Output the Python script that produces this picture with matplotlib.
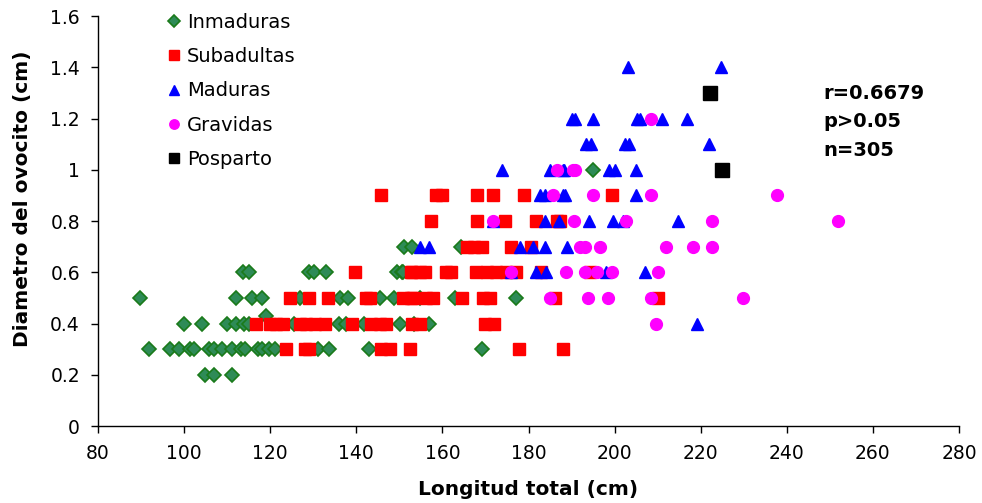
import matplotlib
matplotlib.use("Agg")
import matplotlib.pyplot as plt
from matplotlib.ticker import FuncFormatter

plt.rcParams['font.family'] = ['DejaVu Sans']

# Inmaduras (green diamonds)
inm_x = [104.9, 106.9, 111.2,
         91.9, 96.8, 98.8, 101.3, 102.2, 105.8, 106.9, 108.7, 111.2, 113.1, 114.1,
         117.2, 118.2, 119.7, 121.0, 131.1, 133.7, 143.0, 169.1,
         99.9, 104.2, 110.0, 112.0, 113.9, 115.0, 125.5, 135.9, 137.7, 141.8, 150.2, 153.5, 157.0,
         119.1,
         89.8, 112.1, 115.8, 118.2, 127.0, 136.1, 138.0, 145.4, 148.7, 154.9, 162.9, 177.2,
         113.7, 115.1, 129.0, 130.1, 132.9, 149.5, 150.5, 150.9,
         151.0, 153.0, 164.4,
         195.0]
inm_y = [0.2, 0.2, 0.2,
         0.3, 0.3, 0.3, 0.3, 0.3, 0.3, 0.3, 0.3, 0.3, 0.3, 0.3,
         0.3, 0.3, 0.3, 0.3, 0.3, 0.3, 0.3, 0.3,
         0.4, 0.4, 0.4, 0.4, 0.4, 0.4, 0.4, 0.4, 0.4, 0.4, 0.4, 0.4, 0.4,
         0.43,
         0.5, 0.5, 0.5, 0.5, 0.5, 0.5, 0.5, 0.5, 0.5, 0.5, 0.5, 0.5,
         0.6, 0.6, 0.6, 0.6, 0.6, 0.6, 0.6, 0.6,
         0.7, 0.7, 0.7,
         1.0]

# Subadultas (red squares)
sub_x = [123.6, 128.0, 129.1, 145.8, 147.8, 152.4, 177.8, 187.9,
         116.6, 119.9, 121.4, 123.0, 126.9, 128.4, 130.3, 132.7, 138.9, 143.5, 145.4, 146.9,
         153.0, 154.9, 169.8, 171.9,
         124.5, 128.9, 133.4, 142.2, 143.1, 150.9, 152.8, 153.2, 156.1, 157.8, 164.6, 169.4,
         171.0, 186.1, 210.1,
         139.7, 152.8, 153.0, 154.7, 155.9, 160.9, 162.1, 167.9, 170.4, 172.5, 174.7, 177.2,
         183.0, 194.2,
         165.6, 167.3, 169.1, 176.0, 180.6,
         157.4, 168.0, 174.5, 181.8, 186.6, 187.3,
         145.8, 158.6, 160.0, 168.0, 171.7, 178.9, 199.5]
sub_y = [0.3] * 8 + [0.4] * 16 + [0.5] * 15 + [0.6] * 14 + [0.7] * 5 + [0.8] * 6 + [0.9] * 7

# Maduras (blue triangles)
mad_x = [219.2,
         176.0, 181.8, 184.0, 197.9, 207.0,
         154.9, 157.0, 178.1, 181.0, 183.8, 189.0,
         171.7, 183.8, 187.1, 194.1, 199.6, 202.0, 214.7,
         182.6, 183.8, 188.0, 188.4, 205.0,
         173.9, 184.9, 187.9, 188.2, 198.7, 200.0, 205.0,
         193.3, 194.4, 202.3, 203.3, 221.9,
         190.0, 190.7, 195.0, 205.1, 205.8, 211.1, 216.7,
         203.1, 224.8]
mad_y = [0.4] + [0.6] * 5 + [0.7] * 6 + [0.8] * 7 + [0.9] * 5 + [1.0] * 7 + [1.1] * 5 + [1.2] * 7 + [1.4] * 2

# Gravidas (magenta circles)
grav_x = [209.7,
          184.9, 193.8, 198.5, 208.5, 229.8,
          176.0, 188.8, 193.1, 195.8, 199.5, 210.1,
          191.9, 193.1, 196.7, 211.9, 218.1, 222.7,
          171.7, 190.5, 202.7, 222.7, 251.9,
          185.8, 194.9, 208.5, 237.8,
          186.6, 190.3, 190.7,
          208.5]
grav_y = [0.4] + [0.5] * 5 + [0.6] * 6 + [0.7] * 6 + [0.8] * 5 + [0.9] * 4 + [1.0] * 3 + [1.2]

# Posparto (black squares)
pos_x = [222.1, 225.0]
pos_y = [1.3, 1.0]

stats = ['r=0.6679', 'p>0.05', 'n=305']

fig = plt.figure(figsize=(9.82, 5.03), dpi=100)
ax = fig.add_axes([0.0998, 0.153, 0.8768, 0.815])

ax.plot(inm_x, inm_y, 'D', color='#2e8b57', mec='#1a7a1a', mew=1.2, ms=7.5, ls='none', label='Inmaduras')
ax.plot(sub_x, sub_y, 's', color='#ff0000', mec='#ff0000', ms=8.5, ls='none', label='Subadultas')
ax.plot(mad_x, mad_y, '^', color='#0000ff', mec='#0000ff', ms=9, ls='none', label='Maduras')
ax.plot(grav_x, grav_y, 'o', color='#ff00ff', mec='#ff00ff', ms=8.5, ls='none', label='Gravidas')
ax.plot(pos_x, pos_y, 's', color='black', mec='black', ms=9.5, ls='none', label='Posparto')

ax.set_xlim(80, 280)
ax.set_ylim(0, 1.6)
ax.set_xticks(range(80, 281, 20))
ax.set_yticks([0, 0.2, 0.4, 0.6, 0.8, 1.0, 1.2, 1.4, 1.6])
ax.yaxis.set_major_formatter(FuncFormatter(lambda v, p: f'{v:g}'))
ax.tick_params(direction='out', length=5, width=1, labelsize=13.5, pad=8)

ax.spines['top'].set_visible(False)
ax.spines['right'].set_visible(False)
for s in ('left', 'bottom'):
    ax.spines[s].set_linewidth(1)

ax.set_xlabel('Longitud total (cm)', fontsize=14.5, fontweight='bold', labelpad=12)
ax.set_ylabel('Diametro del ovocito (cm)', fontsize=14.5, fontweight='bold')
ax.yaxis.set_label_coords(-0.077, 0.555)

leg = ax.legend(loc='upper left', bbox_to_anchor=(0.057, 1.05), frameon=False,
                fontsize=14, handletextpad=0.15, handlelength=1.0, labelspacing=0.78,
                markerscale=0.8)

ax.text(0.843, 0.835, '\n'.join(stats), transform=ax.transAxes, fontsize=14,
        fontweight='bold', va='top', ha='left', linespacing=1.65)

fig.savefig('out.png', dpi=100)
